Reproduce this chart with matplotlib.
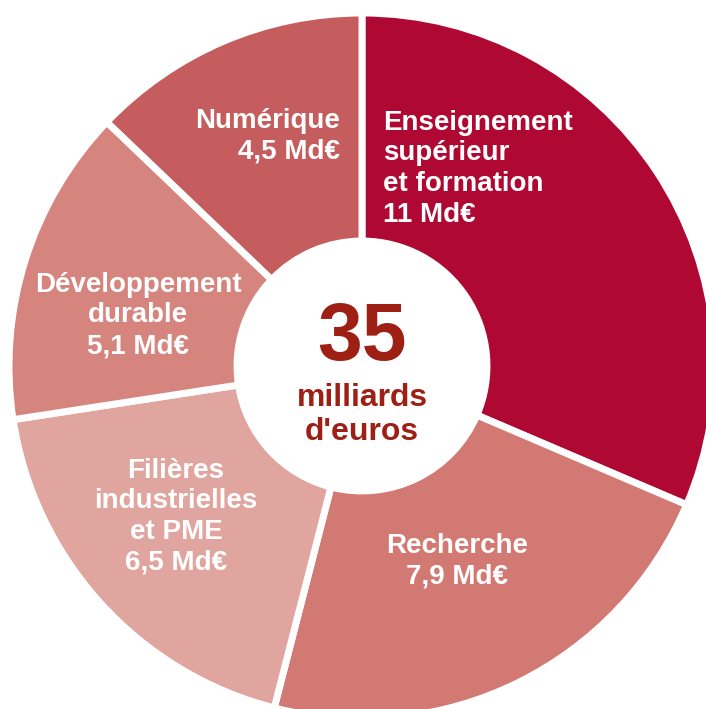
import matplotlib
matplotlib.use("Agg")
import matplotlib.pyplot as plt

# ---- data ----
categories = ["Enseignement supérieur et formation", "Recherche",
              "Filières industrielles et PME", "Développement durable", "Numérique"]
values = [11, 7.9, 6.5, 5.1, 4.5]
value_labels = ["11 Md€", "7,9 Md€", "6,5 Md€", "5,1 Md€", "4,5 Md€"]
label_lines = [["Enseignement", "supérieur", "et formation"],
               ["Recherche"],
               ["Filières", "industrielles", "et PME"],
               ["Développement", "durable"],
               ["Numérique"]]
colors = ["#AF0933", "#D37973", "#E0A59E", "#D5847E", "#C55C5D"]
total_text = "35"
total_sub = ["milliards", "d'euros"]

# ---- layout ----
W, H = 706, 709
CX, CY, R = 362, 366, 353
fig = plt.figure(figsize=(W / 100, H / 100), dpi=100)
ax = fig.add_axes([(CX - R) / W, (H - CY - R) / H, 2 * R / W, 2 * R / H])

ax.pie(values, colors=colors, startangle=90, counterclock=False, radius=1,
       wedgeprops=dict(width=0.646, edgecolor="white", linewidth=5))
ax.set_xlim(-1, 1)
ax.set_ylim(-1, 1)
ax.set_aspect("equal")
ax.axis("off")

def px(x, y):
    return (x - CX) / R, (CY - y) / R

font = "Liberation Sans"
# label anchor (pixel x, first baseline y, ha), line spacing in px
anchors = [(383, 130, "left"), (457, 553, "center"), (176, 478, "center"),
           (138, 292, "center"), (340, 128, "right")]
spacing = 30.5
for lines, val, (ax_px, by, ha) in zip(label_lines, value_labels, anchors):
    for i, t in enumerate(lines + [val]):
        x, y = px(ax_px, by + i * spacing)
        ax.text(x, y, t, ha=ha, va="baseline", color="white", fontsize=20,
                fontweight="bold", family=font)

center_color = "#9E2015"
x, y = px(362, 360)
ax.text(x, y, total_text, ha="center", va="baseline", color=center_color,
        fontsize=58, fontweight="bold", family=font)
for i, t in enumerate(total_sub):
    x, y = px(362, 406 + i * 34)
    ax.text(x, y, t, ha="center", va="baseline", color=center_color,
            fontsize=23, fontweight="bold", family=font)

fig.savefig("out.png", dpi=100, facecolor="white")
